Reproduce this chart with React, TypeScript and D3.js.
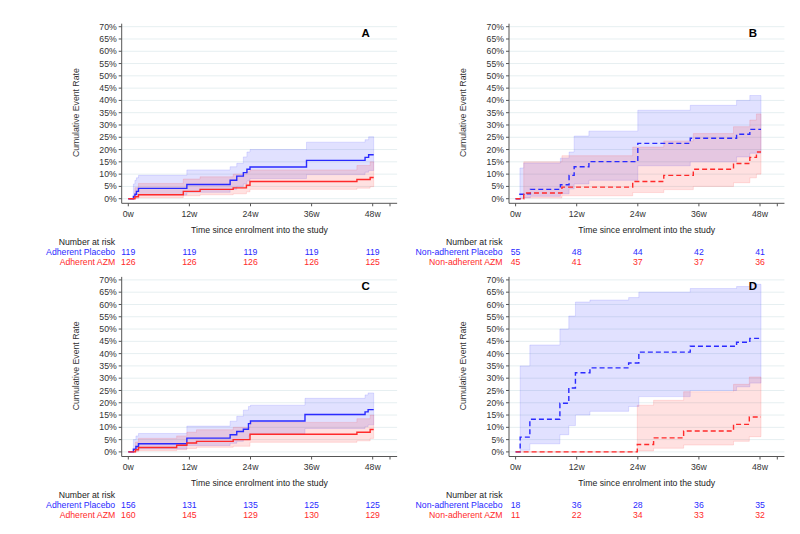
import React from "react";
import * as d3 from "d3";

const weekTicks = [0, 12, 24, 36, 48];
const pctTicks = d3.range(0, 75, 5);
const endWeek = 48.2;

// each row: [week, estimate %, lower CI %, upper CI %]
const adhPlaceboA = [
  [0, 0, 0, 0], [1.0, 0.9, 0.1, 6.0], [1.3, 1.8, 0.3, 7.5], [1.6, 3.0, 0.8, 8.5],
  [2.0, 4.2, 1.5, 9.5], [11.5, 5.8, 2.6, 11.7], [20.0, 7.5, 3.8, 13.0], [21.3, 9.2, 5.0, 14.4],
  [22.6, 10.6, 6.0, 17.0], [23.3, 12.0, 7.2, 19.0], [23.9, 12.9, 8.2, 20.0], [35.0, 15.6, 9.8, 23.0],
  [46.5, 16.8, 10.8, 24.0], [47.2, 17.9, 11.5, 25.2],
];
const adhAzmA = [
  [0, 0, 0, 0], [1.3, 0.8, 0.1, 4.5], [2.0, 1.6, 0.4, 6.2], [10.8, 3.0, 1.2, 8.0],
  [14.1, 3.8, 1.6, 8.9], [20.6, 4.4, 2.0, 10.0], [23.2, 5.5, 2.8, 11.0], [23.9, 7.0, 3.8, 11.7],
  [44.9, 7.8, 4.3, 13.5], [47.5, 8.6, 4.9, 15.0],
];
const nonPlaceboB = [
  [0, 0, 0, 0], [0.85, 1.8, 0.3, 12.5], [1.6, 2.0, 0.4, 14.5], [2.9, 3.8, 1.0, 14.5],
  [8.8, 5.7, 2.0, 16.5], [10.5, 9.5, 4.0, 19.0], [11.5, 13.0, 6.0, 25.5], [14.4, 15.1, 7.5, 27.5],
  [24.0, 22.5, 13.4, 36.0], [34.3, 24.6, 15.0, 38.0], [43.4, 26.2, 17.0, 40.0], [46.0, 28.2, 18.5, 42.0],
];
const nonAzmB = [
  [0, 0, 0, 0], [1.6, 2.3, 0.3, 15.0], [9.1, 4.7, 1.2, 17.5], [23.0, 7.0, 2.5, 21.0],
  [29.1, 9.5, 3.7, 23.5], [34.9, 12.0, 5.0, 26.5], [42.8, 14.3, 6.5, 29.3], [46.0, 16.8, 8.5, 32.0],
  [47.3, 19.0, 10.0, 34.5],
];
const adhPlaceboC = [
  [0, 0, 0, 0], [1.0, 1.1, 0.1, 5.0], [1.5, 2.2, 0.6, 6.5], [2.0, 3.3, 1.2, 7.5],
  [11.5, 5.6, 2.6, 10.5], [20.0, 7.0, 3.5, 12.5], [21.3, 8.3, 4.3, 14.5], [22.6, 9.2, 5.0, 17.0],
  [23.6, 11.5, 6.5, 18.5], [24.0, 12.6, 7.5, 19.0], [34.7, 15.2, 9.5, 21.8], [46.5, 16.3, 10.3, 23.2],
  [47.1, 17.2, 11.0, 24.0],
];
const adhAzmC = [
  [0, 0, 0, 0], [1.4, 0.9, 0.1, 4.0], [2.0, 1.8, 0.5, 5.5], [9.5, 2.7, 0.9, 6.5],
  [11.5, 3.6, 1.4, 8.0], [13.4, 4.3, 1.9, 9.0], [20.6, 5.0, 2.3, 10.0], [23.9, 7.2, 3.9, 12.0],
  [44.9, 8.0, 4.5, 13.5], [47.5, 9.1, 5.5, 15.0],
];
const nonPlaceboD = [
  [0, 0, 0, 0], [0.9, 6.0, 0.7, 35.0], [2.8, 13.3, 3.3, 43.5], [8.7, 19.8, 7.0, 50.0],
  [10.45, 26.0, 10.7, 55.3], [11.75, 32.2, 15.0, 61.0], [14.6, 34.2, 16.5, 61.8], [22.2, 36.2, 18.5, 62.8],
  [24.2, 40.6, 22.5, 65.0], [34.3, 43.0, 25.0, 66.5], [43.4, 44.6, 26.5, 67.3], [46.0, 46.2, 28.0, 68.2],
];
const nonAzmD = [
  [0, 0, 0, 0], [23.9, 3.0, 0.4, 19.0], [27.1, 5.7, 1.5, 21.0], [33.0, 8.5, 2.8, 24.5],
  [42.8, 11.2, 4.3, 27.5], [45.9, 14.2, 6.2, 30.5],
];

const riskPlaceboA = [119, 119, 119, 119, 119];
const riskAzmA = [126, 126, 126, 126, 125];
const riskPlaceboB = [55, 48, 44, 42, 41];
const riskAzmB = [45, 41, 37, 37, 36];
const riskPlaceboC = [156, 131, 135, 125, 125];
const riskAzmC = [160, 145, 129, 130, 129];
const riskPlaceboD = [18, 36, 28, 36, 35];
const riskAzmD = [11, 22, 34, 33, 32];

const panels = [
  { key: "A", dx: 0, dy: 0, dashed: false, placebo: adhPlaceboA, azm: adhAzmA, riskP: riskPlaceboA, riskZ: riskAzmA, nameP: "Adherent Placebo", nameZ: "Adherent AZM" },
  { key: "B", dx: 387.3, dy: 0, dashed: true, placebo: nonPlaceboB, azm: nonAzmB, riskP: riskPlaceboB, riskZ: riskAzmB, nameP: "Non-adherent Placebo", nameZ: "Non-adherent AZM" },
  { key: "C", dx: 0, dy: 253.2, dashed: false, placebo: adhPlaceboC, azm: adhAzmC, riskP: riskPlaceboC, riskZ: riskAzmC, nameP: "Adherent Placebo", nameZ: "Adherent AZM" },
  { key: "D", dx: 387.3, dy: 253.2, dashed: true, placebo: nonPlaceboD, azm: nonAzmD, riskP: riskPlaceboD, riskZ: riskAzmD, nameP: "Non-adherent Placebo", nameZ: "Non-adherent AZM" },
];

const BLUE = "#2a2aff";
const RED = "#ff2a2a";
const FONT = "'Liberation Sans', Arial, sans-serif";

function Panel({ p }) {
  const x = d3.scaleLinear().domain([0, 48]).range([128.3 + p.dx, 372.7 + p.dx]);
  const y = d3.scaleLinear().domain([0, 70]).range([198.7 + p.dy, 26.7 + p.dy]);
  const left = 121.7 + p.dx;
  const right = x(52.8);
  const axisY = 203.3 + p.dy;

  const withEnd = (s) => [...s, [endWeek, s[s.length - 1][1], s[s.length - 1][2], s[s.length - 1][3]]];
  const line = d3.line().x((d) => x(d[0])).y((d) => y(d[1])).curve(d3.curveStepAfter);
  const band = d3.area().x((d) => x(d[0])).y0((d) => y(d[2])).y1((d) => y(d[3])).curve(d3.curveStepAfter);

  const series = [
    { data: withEnd(p.placebo), color: BLUE },
    { data: withEnd(p.azm), color: RED },
  ];

  return (
    <g fontFamily={FONT}>
      {pctTicks.map((t) => (
        <line key={"g" + t} x1={left} x2={right} y1={y(t)} y2={y(t)} stroke="#e6eff1" strokeWidth={1} />
      ))}
      {series.map((s, i) => (
        <path key={"b" + i} d={band(s.data)} fill={s.color} fillOpacity={0.14} stroke={s.color} strokeOpacity={0.18} strokeWidth={0.7} />
      ))}
      {series.map((s, i) => (
        <path key={"l" + i} d={line(s.data)} fill="none" stroke={s.color} strokeWidth={1.4} strokeDasharray={p.dashed ? "5,3" : undefined} />
      ))}
      <line x1={left} x2={left} y1={y(70) - 3} y2={axisY} stroke="#555" strokeWidth={1} />
      <line x1={left} x2={right} y1={axisY} y2={axisY} stroke="#555" strokeWidth={1} />
      {pctTicks.map((t) => (
        <g key={"y" + t}>
          <line x1={left - 3} x2={left} y1={y(t)} y2={y(t)} stroke="#555" />
          <text x={left - 5} y={y(t)} dy="0.35em" textAnchor="end" fontSize={8.7} fill="#333">{t + "%"}</text>
        </g>
      ))}
      {[...weekTicks, 51.4].map((t) => (
        <line key={"xt" + t} x1={x(t)} x2={x(t)} y1={axisY} y2={axisY + 3} stroke="#555" />
      ))}
      {weekTicks.map((t) => (
        <text key={"xl" + t} x={x(t)} y={217 + p.dy} textAnchor="middle" fontSize={8.7} fill="#333">{t + "w"}</text>
      ))}
      <text x={(left + right) / 2} y={233 + p.dy} textAnchor="middle" fontSize={8.7} fill="#222">Time since enrolment into the study</text>
      <text transform={`translate(${76 + p.dx},${y(35)}) rotate(-90)`} dy="0.35em" textAnchor="middle" fontSize={8.7} fill="#333">Cumulative Event Rate</text>
      <text x={x(46.6)} y={36.7 + p.dy} textAnchor="middle" fontSize={11.5} fontWeight="bold" fill="#000">{p.key}</text>
      <text x={left - 6.5} y={244.5 + p.dy} textAnchor="end" fontSize={8.7} fill="#222">Number at risk</text>
      <text x={left - 6.5} y={255 + p.dy} textAnchor="end" fontSize={8.7} fill={BLUE}>{p.nameP}</text>
      <text x={left - 6.5} y={265 + p.dy} textAnchor="end" fontSize={8.7} fill={RED}>{p.nameZ}</text>
      {weekTicks.map((t, i) => (
        <g key={"r" + t}>
          <text x={x(t)} y={255 + p.dy} textAnchor="middle" fontSize={8.7} fill={BLUE}>{p.riskP[i]}</text>
          <text x={x(t)} y={265 + p.dy} textAnchor="middle" fontSize={8.7} fill={RED}>{p.riskZ[i]}</text>
        </g>
      ))}
    </g>
  );
}

export default function App() {
  return (
    <svg width={800} height={534} style={{ position: "absolute", left: 0, top: 0, background: "#fff" }}>
      {panels.map((p) => (
        <Panel key={p.key} p={p} />
      ))}
    </svg>
  );
}
